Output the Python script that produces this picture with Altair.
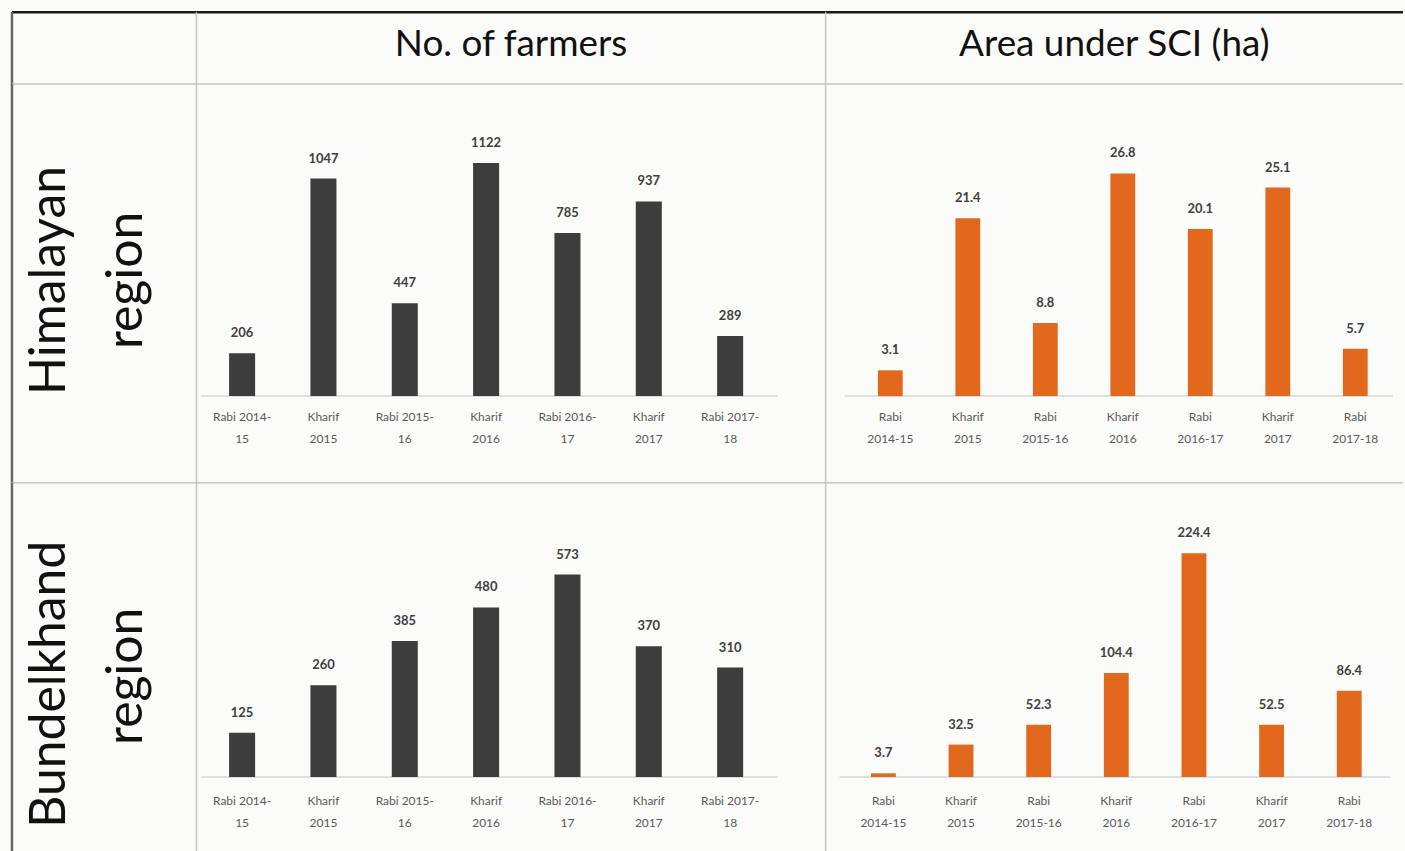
import altair as alt
import pandas as pd

# ---------------- data ----------------
periods = ["Rabi 2014-15", "Kharif 2015", "Rabi 2015-16", "Kharif 2016",
           "Rabi 2016-17", "Kharif 2017", "Rabi 2017-18"]
farm_line1 = ["Rabi 2014-", "Kharif", "Rabi 2015-", "Kharif", "Rabi 2016-", "Kharif", "Rabi 2017-"]
farm_line2 = ["15", "2015", "16", "2016", "17", "2017", "18"]
area_line1 = ["Rabi", "Kharif", "Rabi", "Kharif", "Rabi", "Kharif", "Rabi"]
area_line2 = ["2014-15", "2015", "2015-16", "2016", "2016-17", "2017", "2017-18"]

him_farmers = [206, 1047, 447, 1122, 785, 937, 289]
him_area = [3.1, 21.4, 8.8, 26.8, 20.1, 25.1, 5.7]
bun_farmers = [125, 260, 385, 480, 573, 370, 310]
bun_area = [3.7, 32.5, 52.3, 104.4, 224.4, 52.5, 86.4]

column_titles = ["No. of farmers", "Area under SCI (ha)"]
row_titles = [["Himalayan", "region"], ["Bundelkhand", "region"]]

FONT = "Lato"
DARK = "#3D3D3D"
ORANGE = "#E2681E"
BG = "#FBFBF9"
GRID = "#C4C4C4"
TOPLINE = "#1A1A1A"
LEFTLINE = "#666666"

COL_W = [185, 631, 579]
ROW_H = [72, 400, 370]


def fmt(v):
    return f"{v:g}"


def borders(w, h, top_color, left_color, top_w=1.5, left_w=1.5):
    df = pd.DataFrame({"t": [""]})
    c = alt.Chart(df)
    top = c.mark_rule(color=top_color, strokeWidth=top_w).encode(
        x=alt.value(0), x2=alt.value(w), y=alt.value(0))
    left = c.mark_rule(color=left_color, strokeWidth=left_w).encode(
        x=alt.value(0), y=alt.value(0), y2=alt.value(h))
    return [top, left]


def panel(values, l1, l2, color, ymax, w, h, xr, rule_r, base, top, lab_off):
    df = pd.DataFrame({"period": periods, "value": values,
                       "label": [fmt(v) for v in values], "l1": l1, "l2": l2})
    xs = alt.X("period:N", sort=periods, axis=None,
               scale=alt.Scale(range=xr, paddingInner=0.68, paddingOuter=0.34))
    ys = alt.Scale(domain=[0, ymax], range=[base, top], nice=False, zero=True)
    c = alt.Chart(df)
    rule = c.mark_rule(color="#D6D6D6", strokeWidth=1.5).encode(
        x=alt.value(rule_r[0]), x2=alt.value(rule_r[1]),
        y=alt.Y(datum=0, type="quantitative", scale=ys, axis=None),
    ).transform_filter(alt.datum.period == periods[0])
    bars = c.mark_bar(color=color).encode(
        x=xs, y=alt.Y("value:Q", scale=ys, axis=None))
    vals = c.mark_text(baseline="bottom", dy=-13, fontSize=13, fontWeight="bold",
                       color="#404040", font=FONT).encode(
        x=xs, y=alt.Y("value:Q", scale=ys, axis=None), text="label:N")
    t1 = c.mark_text(baseline="middle", fontSize=12, color="#595959", font=FONT).encode(
        x=xs, y=alt.value(base + lab_off), text="l1:N")
    t2 = c.mark_text(baseline="middle", fontSize=12, color="#595959", font=FONT).encode(
        x=xs, y=alt.value(base + lab_off + 22), text="l2:N")
    return alt.layer(rule, bars, vals, t1, t2,
                     *borders(w, h, GRID, GRID)).properties(width=w, height=h)


def header(text, w, h):
    df = pd.DataFrame({"t": [text]})
    c = alt.Chart(df)
    txt = c.mark_text(fontSize=37, font=FONT, color="#111111", baseline="middle",
                      align="center").encode(
        x=alt.value(w / 2), y=alt.value(h / 2 - 3), text="t:N")
    return alt.layer(txt, *borders(w, h, TOPLINE, GRID, top_w=2.5)).properties(width=w, height=h)


def corner(w, h):
    return alt.layer(*borders(w, h, TOPLINE, LEFTLINE, top_w=2.5, left_w=2.5)).properties(
        width=w, height=h)


def rowlabel(lines, w, h, positions):
    layers = []
    for text, (px, py) in zip(lines, positions):
        df = pd.DataFrame({"t": [text]})
        layers.append(alt.Chart(df).mark_text(
            fontSize=50, font=FONT, color="#111111", angle=270,
            align="center", baseline="middle").encode(
            x=alt.value(px), y=alt.value(py), text="t:N"))
    layers += borders(w, h, GRID, LEFTLINE, left_w=2.5)
    return alt.layer(*layers).properties(width=w, height=h)


c00 = corner(COL_W[0], ROW_H[0])
c01 = header(column_titles[0], COL_W[1], ROW_H[0])
c02 = header(column_titles[1], COL_W[2], ROW_H[0])

c10 = rowlabel(row_titles[0], COL_W[0], ROW_H[1], [(38, 197), (115, 197)])
c11 = panel(him_farmers, farm_line1, farm_line2, DARK, 1200, COL_W[1], ROW_H[1],
            [5, 576], [5, 583], 313, 63, 21)
c12 = panel(him_area, area_line1, area_line2, ORANGE, 30, COL_W[2], ROW_H[1],
            [26, 570], [19, 569], 313, 63, 21)

c20 = rowlabel(row_titles[1], COL_W[0], ROW_H[2], [(38, 202), (115, 194)])
c21 = panel(bun_farmers, farm_line1, farm_line2, DARK, 700, COL_W[1], ROW_H[2],
            [5, 576], [5, 583], 295, 47, 24)
c22 = panel(bun_area, area_line1, area_line2, ORANGE, 250, COL_W[2], ROW_H[2],
            [19, 564], [14, 566], 295, 45, 24)

chart = alt.concat(
    c00, c01, c02, c10, c11, c12, c20, c21, c22,
    columns=3, spacing=0, bounds="flush", align="each",
).properties(
    padding={"left": 10, "top": 9, "right": 0, "bottom": 0},
    background=BG,
).configure_view(stroke=None)

chart.save("out.html", embed_options={"renderer": "svg", "actions": False})
